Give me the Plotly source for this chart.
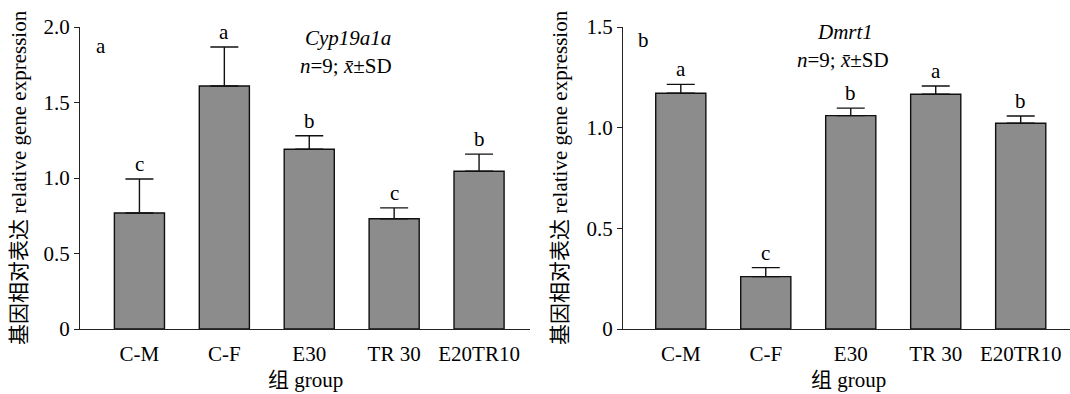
import plotly.graph_objects as go

groups = ["C-M", "C-F", "E30", "TR 30", "E20TR10"]
cyp_mean = [0.768, 1.609, 1.19, 0.73, 1.045]
cyp_sd = [0.225, 0.259, 0.09, 0.072, 0.113]
cyp_letters = ["c", "a", "b", "c", "b"]
dmrt_mean = [1.171, 0.26, 1.06, 1.166, 1.022]
dmrt_sd = [0.044, 0.045, 0.037, 0.041, 0.036]
dmrt_letters = ["a", "c", "b", "a", "b"]
cyp_ticks = [0, 0.5, 1.0, 1.5, 2.0]
cyp_ticktext = ["0", "0.5", "1.0", "1.5", "2.0"]
dmrt_ticks = [0, 0.5, 1.0, 1.5]
dmrt_ticktext = ["0", "0.5", "1.0", "1.5"]

FONT = "Liberation Serif, Times New Roman, Noto Sans CJK SC, serif"
W, H = 1070, 394
top_px, bot_px = 27, 329
FS = 21

fig = go.Figure()

def add_panel(means, sds, letters, xa, ya):
    fig.add_trace(go.Bar(
        x=list(range(len(groups))), y=means, xaxis=xa, yaxis=ya,
        width=0.59, marker=dict(color="#8c8c8c", line=dict(color="#111111", width=1.4)),
        error_y=dict(type="data", symmetric=False, array=sds, arrayminus=[0] * len(sds),
                     color="#111111", thickness=1.4, width=14),
        showlegend=False, hoverinfo="skip"))
    for i, (m, s, l) in enumerate(zip(means, sds, letters)):
        fig.add_annotation(x=i, y=m + s, xref=xa, yref=ya, text=l, showarrow=False,
                           yanchor="middle", yshift=15, font=dict(size=FS, family=FONT, color="black"))

add_panel(cyp_mean, cyp_sd, cyp_letters, "x", "y")
add_panel(dmrt_mean, dmrt_sd, dmrt_letters, "x2", "y2")

ydom = [(H - bot_px) / H, (H - top_px) / H]
axfont = dict(size=FS, family=FONT, color="black")
xcommon = dict(tickmode="array", tickvals=list(range(5)), ticktext=groups, showgrid=False,
               zeroline=False, showline=True, linecolor="#222222", linewidth=1.2,
               ticks="outside", ticklen=6, tickcolor="rgba(0,0,0,0)", tickfont=axfont,
               automargin=False)
ycommon = dict(showgrid=False, zeroline=False, showline=True, linecolor="#222222", linewidth=1.2,
               ticks="outside", ticklen=5, tickwidth=1.2, tickcolor="#222222", tickfont=axfont,
               automargin=False)

fig.update_layout(
    width=W, height=H, margin=dict(l=0, r=0, t=0, b=0, pad=0), autosize=False,
    paper_bgcolor="white", plot_bgcolor="white",
    xaxis=dict(domain=[80 / W, 530 / W], range=[-0.7, 4.6], anchor="y", **xcommon),
    yaxis=dict(domain=ydom, range=[0, 2.0], tickvals=cyp_ticks, ticktext=cyp_ticktext, anchor="x", **ycommon),
    xaxis2=dict(domain=[623 / W, 1.0], range=[-0.68, 4.58], anchor="y2", **xcommon),
    yaxis2=dict(domain=ydom, range=[0, 1.5], tickvals=dmrt_ticks, ticktext=dmrt_ticktext, anchor="x2", **ycommon),
)

def pa(x, y, text, size=FS, angle=0, xanchor="center"):
    fig.add_annotation(x=x / W, y=1 - y / H, xref="paper", yref="paper", text=text,
                       showarrow=False, textangle=angle, xanchor=xanchor, yanchor="middle",
                       font=dict(size=size, family=FONT, color="black"))

# panel labels
pa(101, 46, "a")
pa(643, 40, "b")
# gene titles
pa(348, 38, "<i>Cyp19a1a</i>")
pa(346, 66, "<i>n</i>=9; <i>x\u0304</i>±SD")
pa(845, 32, "<i>Dmrt1</i>")
pa(843, 60, "<i>n</i>=9; <i>x\u0304</i>±SD")
# axis titles
pa(19, 178, "基因相对表达 relative gene expression", size=21, angle=-90)
pa(560, 178, "基因相对表达 relative gene expression", size=21, angle=-90)
pa(305, 380, "组 group")
pa(848, 380, "组 group")

fig.write_html(
    "out.html",
    config={"responsive": False, "displayModeBar": False},
    post_script="document.documentElement.style.overflow='hidden';document.body.style.margin='0';document.body.style.overflow='hidden';",
)
